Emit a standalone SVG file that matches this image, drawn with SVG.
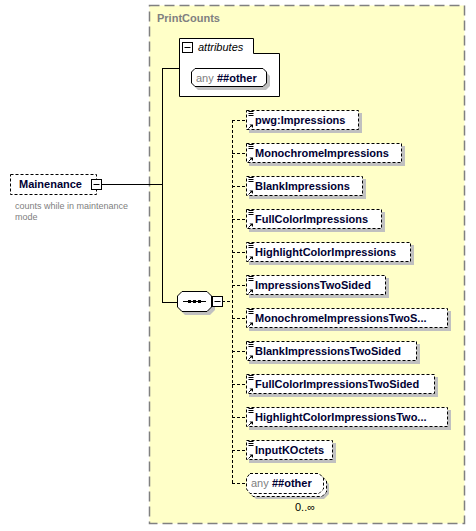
<svg xmlns="http://www.w3.org/2000/svg" width="476" height="531" viewBox="0 0 476 531">
<style>
text{font-family:"Liberation Sans",Arial,sans-serif;}
.el{font-size:11px;font-weight:bold;fill:#000033;}
.box{fill:#fff;stroke:#000;stroke-width:1;stroke-dasharray:3,2;}
.shadow{fill:#c0c0c0;}
.solid{stroke:#000;stroke-width:1;fill:none;}
.dash{stroke:#000;stroke-width:1;fill:none;stroke-dasharray:3,2;}
.gray{fill:#808080;}
.ico{stroke:#000;stroke-width:1;fill:none;}
</style>
<defs>
<g id="icon">
<path class="ico" d="M2.5,1.5h5M2.5,3.5h5M2.5,5.5h5"/>
<path class="ico" d="M2.5,18.5l3.5,-3.5"/>
<path d="M3.5,14.5h3.5v3.5z" fill="#000"/>
</g>
</defs>
<rect id="PrintCounts-bg" x="149.5" y="5.5" width="315" height="518" fill="#ffffc8" stroke="#808080" stroke-width="1.5" stroke-dasharray="10,5"/>
<text x="157" y="22" font-size="11" font-weight="bold" class="gray">PrintCounts</text>

<g id="connectors">
<path class="solid" d="M101,184.5H162.5M162.5,68V302M162,68.5H179M162,302.5H177"/>
<path class="dash" d="M222,301.5H232.5M232.5,120V483M232,120.5H246M232,153.5H246M232,186.5H246M232,219.5H246M232,252.5H246M232,285.5H246M232,318.5H246M232,351.5H246M232,384.5H246M232,417.5H246M232,450.5H246M232,483.5H246"/>
</g>

<g id="Mainenance">
<rect class="box" x="10.5" y="174.5" width="86" height="20"/>
<text class="el" x="19" y="188">Mainenance</text>
<rect x="91.5" y="179.5" width="10" height="10" fill="#fff" stroke="#000"/>
<path d="M93.5,184.5h6" stroke="#000"/>
<text x="15" y="209" font-size="9" class="gray">counts while in maintenance</text>
<text x="15" y="220" font-size="9" class="gray">mode</text>
</g>

<g id="attributes">
<path d="M179.5,38.5H253.5V53.5H279.5V96.5H179.5Z" fill="#fff" stroke="#000"/>
<rect x="182.5" y="42.5" width="10" height="10" fill="#fff" stroke="#000"/>
<path d="M184.5,47.5h6" stroke="#000"/>
<text x="198" y="51" font-size="11" font-style="italic" fill="#000">attributes</text>
<path class="shadow" d="M198,72H266L270,76V86L266,90H198L194,86V76Z"/>
<path d="M195,68.5H263L266.5,72V83L263,86.5H195L191.5,83V72Z" fill="#fff" stroke="#000"/>
<text x="196" y="82" font-size="11" class="gray">any</text>
<text class="el" x="217" y="82">##other</text>
</g>

<g id="sequence">
<path class="shadow" d="M185,294H210L215,299V310L210,315H185L180,310V299Z"/>
<path d="M182,291.5H207L211.5,296V307L207,311.5H182L177.5,307V296Z" fill="#fff" stroke="#000"/>
<path d="M183,301.5H206" stroke="#000"/>
<rect x="188" y="300" width="3" height="3" fill="#000"/>
<rect x="193" y="300" width="3" height="3" fill="#000"/>
<rect x="198" y="300" width="3" height="3" fill="#000"/>
<rect x="212.5" y="296.5" width="10" height="10" fill="#fff" stroke="#000"/>
<path d="M214.5,301.5h6" stroke="#000"/>
</g>

<g id="pwg-Impressions">
<rect class="shadow" x="249" y="113" width="113" height="20"/>
<rect class="box" x="246.5" y="110.5" width="112" height="19"/>
<use href="#icon" x="246" y="110"/>
<text class="el" x="255" y="124">pwg:Impressions</text>
</g>
<g id="MonochromeImpressions">
<rect class="shadow" x="249" y="146" width="156" height="20"/>
<rect class="box" x="246.5" y="143.5" width="155" height="19"/>
<use href="#icon" x="246" y="143"/>
<text class="el" x="255" y="157">MonochromeImpressions</text>
</g>
<g id="BlankImpressions">
<rect class="shadow" x="249" y="179" width="117" height="20"/>
<rect class="box" x="246.5" y="176.5" width="116" height="19"/>
<use href="#icon" x="246" y="176"/>
<text class="el" x="255" y="190">BlankImpressions</text>
</g>
<g id="FullColorImpressions">
<rect class="shadow" x="249" y="212" width="136" height="20"/>
<rect class="box" x="246.5" y="209.5" width="135" height="19"/>
<use href="#icon" x="246" y="209"/>
<text class="el" x="255" y="223">FullColorImpressions</text>
</g>
<g id="HighlightColorImpressions">
<rect class="shadow" x="249" y="245" width="165" height="20"/>
<rect class="box" x="246.5" y="242.5" width="164" height="19"/>
<use href="#icon" x="246" y="242"/>
<text class="el" x="255" y="256">HighlightColorImpressions</text>
</g>
<g id="ImpressionsTwoSided">
<rect class="shadow" x="249" y="278" width="140" height="20"/>
<rect class="box" x="246.5" y="275.5" width="139" height="19"/>
<use href="#icon" x="246" y="275"/>
<text class="el" x="255" y="289">ImpressionsTwoSided</text>
</g>
<g id="MonochromeImpressionsTwoSided">
<rect class="shadow" x="249" y="311" width="202" height="20"/>
<rect class="box" x="246.5" y="308.5" width="201" height="19"/>
<use href="#icon" x="246" y="308"/>
<text class="el" x="255" y="322">MonochromeImpressionsTwoS...</text>
</g>
<g id="BlankImpressionsTwoSided">
<rect class="shadow" x="249" y="344" width="171" height="20"/>
<rect class="box" x="246.5" y="341.5" width="170" height="19"/>
<use href="#icon" x="246" y="341"/>
<text class="el" x="255" y="355">BlankImpressionsTwoSided</text>
</g>
<g id="FullColorImpressionsTwoSided">
<rect class="shadow" x="249" y="377" width="189" height="20"/>
<rect class="box" x="246.5" y="374.5" width="188" height="19"/>
<use href="#icon" x="246" y="374"/>
<text class="el" x="255" y="388">FullColorImpressionsTwoSided</text>
</g>
<g id="HighlightColorImpressionsTwoSided">
<rect class="shadow" x="249" y="410" width="202" height="20"/>
<rect class="box" x="246.5" y="407.5" width="201" height="19"/>
<use href="#icon" x="246" y="407"/>
<text class="el" x="255" y="421">HighlightColorImpressionsTwo...</text>
</g>
<g id="InputKOctets">
<rect class="shadow" x="249" y="443" width="87" height="20"/>
<rect class="box" x="246.5" y="440.5" width="86" height="19"/>
<use href="#icon" x="246" y="440"/>
<text class="el" x="255" y="454">InputKOctets</text>
</g>
<g id="any-other">
<path class="shadow" d="M256,479H324L329,484V494L324,499H256L251,494V484Z"/>
<path d="M253,476.5H322L326.5,481V492L322,496.5H253L249.5,492V481Z" fill="#fff" stroke="#000" stroke-dasharray="3,2"/>
<path d="M250,473.5H319L323.5,478V489L319,493.5H250L246.5,489V478Z" fill="#fff" stroke="#000" stroke-dasharray="3,2"/>
<text x="251" y="487" font-size="11" class="gray">any</text>
<text class="el" x="272" y="487">##other</text>
<text x="295" y="511" font-size="11" fill="#000">0..∞</text>
</g>
</svg>
